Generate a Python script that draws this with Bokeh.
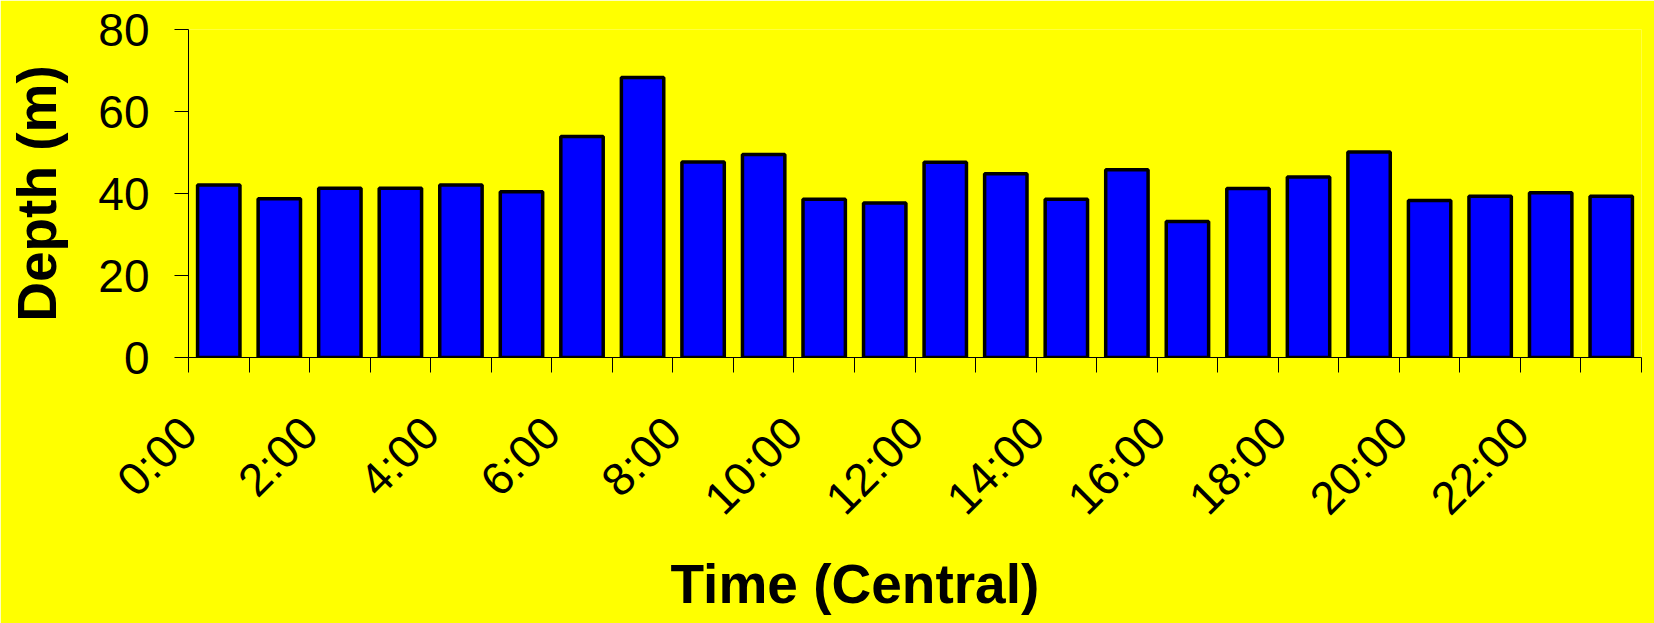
import math
from bokeh.plotting import figure
from bokeh.models import FixedTicker, Range1d, Title
from bokeh.embed import file_html
from bokeh.resources import INLINE

# ---- data ----
hours = ["0:00", "1:00", "2:00", "3:00", "4:00", "5:00", "6:00", "7:00",
         "8:00", "9:00", "10:00", "11:00", "12:00", "13:00", "14:00", "15:00",
         "16:00", "17:00", "18:00", "19:00", "20:00", "21:00", "22:00", "23:00"]
depths = [42.1, 38.7, 41.3, 41.3, 42.1, 40.4, 53.9, 68.3,
          47.7, 49.5, 38.6, 37.7, 47.6, 44.8, 38.6, 45.8,
          33.2, 41.2, 44.0, 50.1, 38.3, 39.3, 40.2, 39.3]
tick_labels = ["0:00", "2:00", "4:00", "6:00", "8:00", "10:00",
               "12:00", "14:00", "16:00", "18:00", "20:00", "22:00"]
y_ticks = [0, 20, 40, 60, 80]

FONT = "Liberation Sans"
BG = "#FFFF00"

n = len(hours)
xs = [i + 0.5 for i in range(n)]          # bar centres (middle of each hour)

p = figure(width=1654, height=623, output_backend="svg", toolbar_location=None,
           x_range=Range1d(0, n), y_range=Range1d(0, 80),
           min_border_left=188, min_border_right=13,
           min_border_top=29, min_border_bottom=266)
p.background_fill_color = BG
p.border_fill_color = BG
p.outline_line_color = None
p.xgrid.visible = False
p.ygrid.visible = False

p.vbar(x=xs, top=depths, width=0.70, bottom=0,
       fill_color="#0000FF", line_color="black", line_width=3.5)

# x axis: labels at the start of even hours, ticks at every hour boundary
label_pos = [hours.index(t) for t in tick_labels]
xa = p.xaxis[0]
xa.ticker = FixedTicker(ticks=label_pos, minor_ticks=list(range(n + 1)))
xa.major_label_overrides = {pos: lab for pos, lab in zip(label_pos, tick_labels)}
xa.major_tick_out = 0
xa.major_tick_in = 0
xa.minor_tick_out = 15
xa.minor_tick_in = 0
xa.minor_tick_line_color = "black"
xa.axis_line_color = "black"
xa.major_label_orientation = math.pi / 4
xa.major_label_standoff = 52
xa.major_label_text_font = FONT
xa.major_label_text_font_size = "46px"
xa.major_label_text_color = "black"

xtitle = Title(text="Time (Central)", align="left", offset=482,
               vertical_align="top", standoff=14,
               text_font=FONT, text_font_style="bold", text_font_size="55px",
               text_color="black")
p.add_layout(xtitle, "below")

ya = p.yaxis[0]
ya.ticker = FixedTicker(ticks=y_ticks, minor_ticks=[])
ya.major_tick_out = 14
ya.major_tick_in = 0
ya.major_tick_line_color = "black"
ya.axis_line_color = "black"
ya.major_label_standoff = 25
ya.major_label_text_font = FONT
ya.major_label_text_font_size = "46px"
ya.major_label_text_color = "black"
ya.axis_label = "Depth (m)"
ya.axis_label_text_font = FONT
ya.axis_label_text_font_style = "bold"
ya.axis_label_text_font_size = "55px"
ya.axis_label_text_color = "black"
ya.axis_label_standoff = 27

open("out.html", "w").write(file_html(p, INLINE))
